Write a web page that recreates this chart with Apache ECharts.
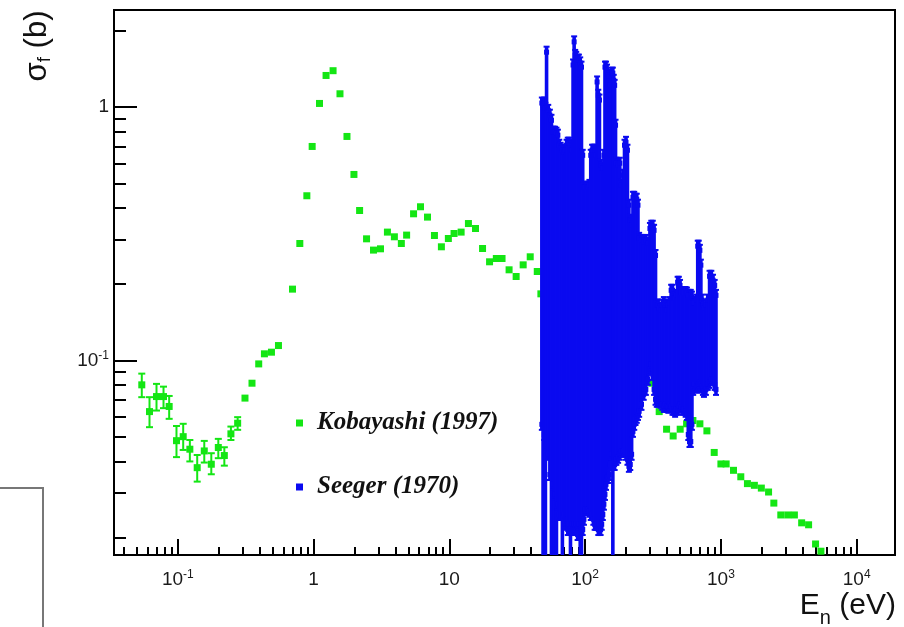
<!DOCTYPE html>
<html>
<head>
<meta charset="utf-8">
<script src="https://cdn.jsdelivr.net/npm/echarts@6/dist/echarts.min.js"></script>
<style>
  html, body { margin: 0; padding: 0; background: #fff; }
  #chart { width: 904px; height: 627px; }
</style>
</head>
<body>
<div id="chart"></div>
<script>
// ---------------- Data ----------------
// Kobayashi (1997): neutron energy (eV) and fission cross section (b)
const kobE = [0.0543, 0.0619, 0.0697, 0.0785, 0.0864, 0.0978, 0.1096, 0.1227, 0.139, 0.1567,
  0.1765, 0.1988, 0.2202, 0.2462, 0.276, 0.3125, 0.352, 0.3945, 0.4346, 0.4896,
  0.5514, 0.6997, 0.792, 0.8923, 0.9765, 1.106, 1.236, 1.392, 1.565, 1.762,
  1.983, 2.183, 2.456, 2.763, 3.11, 3.499, 3.937, 4.43, 4.845, 5.451,
  6.133, 6.901, 7.767, 8.738, 9.833, 10.83, 12.21, 13.82, 15.58, 17.56,
  19.78, 22.18, 24.44, 27.54, 31.04, 34.97, 39.41, 44.41, 47.22,
  310, 351.1, 398, 445, 501.3, 558.7, 621.8, 700.2, 788.6, 892.8,
  1000, 1093, 1238, 1401, 1568, 1764, 1985, 2244, 2454, 2761,
  3107, 3477, 3933, 4424, 4979, 5453];
const kobSigma = [0.0802, 0.0629, 0.0721, 0.0721, 0.0659, 0.0483, 0.0501, 0.0447, 0.0378, 0.044,
  0.039, 0.0454, 0.0422, 0.0514, 0.0566, 0.0711, 0.0814, 0.097, 0.1063, 0.1079,
  0.1146, 0.1913, 0.2895, 0.4467, 0.699, 1.033, 1.332, 1.391, 1.128, 0.7655,
  0.5421, 0.3908, 0.3021, 0.2727, 0.2759, 0.3211, 0.3077, 0.2895, 0.3125, 0.3792,
  0.4042, 0.368, 0.3114, 0.281, 0.303, 0.3171, 0.3211, 0.3471, 0.3318, 0.2767,
  0.2452, 0.2527, 0.2527, 0.228, 0.2145, 0.2385, 0.2566, 0.2245, 0.1833,
  0.0814, 0.0629, 0.0536, 0.0504, 0.0536, 0.0563, 0.058, 0.0563, 0.0528, 0.0434,
  0.0391, 0.0391, 0.0369, 0.0348, 0.0327, 0.0322, 0.0314, 0.0303, 0.0274, 0.0246,
  0.0246, 0.0246, 0.0229, 0.0225, 0.0189, 0.0177];
// visible error-bar bounds of the first Kobayashi points
const kobErrHigh = [0.0888, 0.0717, 0.0809, 0.0789, 0.0725, 0.0552, 0.0563, 0.0486, 0.0424, 0.0482,
  0.0431, 0.0491, 0.0455, 0.0549, 0.0598];
const kobErrLow = [0.0717, 0.0546, 0.0635, 0.0649, 0.0589, 0.0416, 0.0444, 0.04, 0.0333, 0.0396,
  0.0356, 0.0412, 0.0385, 0.0486, 0.0533];

// Seeger (1970): dense resonance data, upper / lower extent of the error bars per energy
const seegerE = [48, 49, 50, 51, 52, 53.5, 55, 56.5, 58, 59,
  60, 61.5, 63, 64.5, 66, 68, 70, 71.5, 73, 74.5,
  76, 78, 80, 81.5, 83, 84.5, 86, 88, 90, 92,
  94, 96, 98, 100, 102.5, 105, 107.5, 110, 112.5, 115,
  117.5, 120, 122.5, 125, 127.5, 130, 132.5, 135, 137.5, 140,
  142.5, 145, 147.5, 150, 152.5, 155, 157.5, 160, 162.5, 165,
  167.5, 170, 175, 180, 185, 190, 195, 200, 205, 210,
  215, 220, 225, 230, 235, 240, 245, 250, 260, 270,
  280, 290, 300, 307, 315, 322, 330, 337, 345, 352,
  360, 370, 380, 390, 400, 410, 420, 430, 440, 450,
  460, 470, 480, 490, 500, 512, 525, 537, 550, 562,
  575, 587, 600, 612, 625, 637, 650, 662, 675, 687,
  700, 712, 725, 737, 750, 775, 800, 825, 850, 875,
  900, 920];
const seegerHigh = [1.09, 1.07, 1.09, 1.04, 1.73, 1.02, 0.976, 0.932, 0.836, 0.836,
  0.836, 0.829, 0.814, 0.743, 0.723, 0.710, 0.697, 0.710, 0.743, 0.757,
  0.757, 0.743, 0.710, 1.54, 1.90, 1.68, 1.65, 1.61, 1.61, 1.57,
  1.51, 0.678, 0.507, 0.507, 0.507, 0.507, 0.516, 0.678, 0.710, 0.710,
  0.710, 0.678, 1.32, 1.17, 1.12, 0.620, 0.603, 0.603, 0.678, 1.51,
  1.51, 1.47, 1.40, 1.38, 1.28, 1.17, 1.43, 1.43, 1.34, 1.28,
  0.891, 0.631, 0.620, 0.631, 0.516, 0.566, 0.743, 0.763, 0.710, 0.431,
  0.376, 0.359, 0.463, 0.463, 0.455, 0.455, 0.431, 0.319, 0.313, 0.308,
  0.313, 0.305, 0.349, 0.356, 0.356, 0.343, 0.273, 0.174, 0.174, 0.169,
  0.166, 0.174, 0.178, 0.174, 0.166, 0.174, 0.178, 0.199, 0.199, 0.185,
  0.185, 0.190, 0.214, 0.214, 0.208, 0.195, 0.195, 0.195, 0.195, 0.194,
  0.190, 0.190, 0.190, 0.187, 0.178, 0.178, 0.178, 0.182, 0.297, 0.297,
  0.286, 0.250, 0.182, 0.174, 0.169, 0.174, 0.182, 0.226, 0.226, 0.218,
  0.208, 0.190];
const seegerLow = [0.0533, 0.012, 0.0486, 0.012, 0.0444, 0.0406, 0.0338, 0.012, 0.0309, 0.012,
  0.0282, 0.012, 0.0258, 0.0235, 0.0235, 0.012, 0.0235, 0.0215, 0.0225, 0.0205,
  0.0215, 0.012, 0.0215, 0.0205, 0.0215, 0.0205, 0.0215, 0.0196, 0.0215, 0.012,
  0.012, 0.0205, 0.0225, 0.0246, 0.0246, 0.0246, 0.0242, 0.0235, 0.0235, 0.0225,
  0.0215, 0.0215, 0.0215, 0.0205, 0.0215, 0.0205, 0.0215, 0.0235, 0.0258, 0.0282,
  0.0309, 0.0329, 0.0329, 0.0338, 0.037, 0.0406, 0.0406, 0.012, 0.037, 0.037,
  0.0388, 0.0388, 0.0395, 0.0406, 0.0417, 0.0417, 0.0424, 0.0406, 0.0388, 0.0364,
  0.037, 0.0406, 0.05, 0.0533, 0.0557, 0.0568, 0.0583, 0.06, 0.0639, 0.07,
  0.0732, 0.0802, 0.0878, 0.0919, 0.0839, 0.0732, 0.0669, 0.0657, 0.0657, 0.0669,
  0.0651, 0.0639, 0.0627, 0.0639, 0.0627, 0.0622, 0.0639, 0.0627, 0.0611, 0.0611,
  0.06, 0.0611, 0.0611, 0.0627, 0.0639, 0.0622, 0.0611, 0.0611, 0.06, 0.0583,
  0.0486, 0.0456, 0.0456, 0.0533, 0.0732, 0.0766, 0.0766, 0.0752, 0.0746, 0.0766,
  0.078, 0.0766, 0.0752, 0.0732, 0.0719, 0.0732, 0.0766, 0.078, 0.0802, 0.0802,
  0.0766, 0.0732];

// Axis ranges and ticks
const X_MIN = 0.0339, X_MAX = 19150;
const Y_MIN = 0.0171, Y_MAX = 2.414;
const xMajorTicks = [0.1, 1, 10, 100, 1000, 10000];
const xTickBase = ['10', '1', '10', '10', '10', '10'];
const xTickExp = ['-1', '', '', '2', '3', '4'];
const xMinorTicks = [0.04, 0.05, 0.06, 0.07, 0.08, 0.09,
  0.2, 0.3, 0.4, 0.5, 0.6, 0.7, 0.8, 0.9,
  2, 3, 4, 5, 6, 7, 8, 9,
  20, 30, 40, 50, 60, 70, 80, 90,
  200, 300, 400, 500, 600, 700, 800, 900,
  2000, 3000, 4000, 5000, 6000, 7000, 8000, 9000];
const yMajorTicks = [0.1, 1];
const yTickBase = ['10', '1'];
const yTickExp = ['-1', ''];
const yMinorTicks = [0.02, 0.03, 0.04, 0.05, 0.06, 0.07, 0.08, 0.09,
  0.2, 0.3, 0.4, 0.5, 0.6, 0.7, 0.8, 0.9, 2];

const legendNames = ['Kobayashi (1997)', 'Seeger (1970)'];

// ---------------- Styling ----------------
const GREEN = '#14e614';
const BLUE = '#0a0af0';
const FONT = 'Liberation Sans, Arial, sans-serif';

function tickFormatter(values, bases, exps) {
  return function (v) {
    for (let i = 0; i < values.length; i++) {
      if (Math.abs(Math.log10(v) - Math.log10(values[i])) < 1e-6) {
        return exps[i] ? '{b|' + bases[i] + '}{s|' + exps[i] + '}' : '{b|' + bases[i] + '}';
      }
    }
    return '';
  };
}
const labelRich = {
  b: { fontSize: 19, lineHeight: 22, fontFamily: FONT, color: '#1a1a1a' },
  s: { fontSize: 12, lineHeight: 12, fontFamily: FONT, color: '#1a1a1a', verticalAlign: 'top' }
};

const kobData = kobE.map((e, i) => [e, kobSigma[i]]);
const kobErrData = kobErrHigh.map((h, i) => [kobE[i], h, kobErrLow[i]]);
const seegerData = seegerE.map((e, i) => [e, seegerHigh[i], seegerLow[i]]);

function makeErrorRenderer(color, capHalf, lineW, withMarkers) {
  return function (params, api) {
    const cs = params.coordSys;
    const pTop = api.coord([api.value(0), api.value(1)]);
    const pBot = api.coord([api.value(0), api.value(2)]);
    const gTop = cs.y, gBot = cs.y + cs.height;
    const x = pTop[0];
    const y1 = Math.max(pTop[1], gTop);
    const y2 = Math.min(pBot[1], gBot);
    const st = { stroke: color, lineWidth: lineW };
    const capSt = { stroke: color, lineWidth: 2 };
    const ch = [{ type: 'line', shape: { x1: x, y1: y1, x2: x, y2: y2 }, style: st }];
    if (pTop[1] >= gTop) {
      ch.push({ type: 'line', shape: { x1: x - capHalf, y1: y1, x2: x + capHalf, y2: y1 }, style: capSt });
      if (withMarkers) ch.push({ type: 'rect', shape: { x: x - 2.5, y: y1 + 3, width: 5, height: 5 }, style: { fill: color } });
    }
    if (pBot[1] <= gBot) {
      ch.push({ type: 'line', shape: { x1: x - capHalf, y1: y2, x2: x + capHalf, y2: y2 }, style: capSt });
      if (withMarkers) ch.push({ type: 'rect', shape: { x: x - 2.5, y: y2 - 8, width: 5, height: 5 }, style: { fill: color } });
    }
    return { type: 'group', children: ch };
  };
}

const chart = echarts.init(document.getElementById('chart'), null, { renderer: 'canvas' });
const option = {
  animation: false,
  backgroundColor: '#fff',
  grid: { left: 114, right: 9, top: 10, bottom: 72, show: true, borderColor: '#000', borderWidth: 2, containLabel: false },
  xAxis: [
    {
      type: 'log', min: X_MIN, max: X_MAX, position: 'bottom',
      axisLine: { show: true, lineStyle: { color: '#000', width: 2 } },
      axisTick: { show: true, inside: true, length: 16, lineStyle: { color: '#000', width: 2 }, customValues: xMajorTicks },
      axisLabel: { show: true, customValues: xMajorTicks, margin: 14, formatter: tickFormatter(xMajorTicks, xTickBase, xTickExp), rich: labelRich },
      splitLine: { show: false }
    },
    {
      type: 'log', min: X_MIN, max: X_MAX, position: 'bottom',
      axisLine: { show: false },
      axisTick: { show: true, inside: true, length: 8, lineStyle: { color: '#000', width: 2 }, customValues: xMinorTicks },
      axisLabel: { show: false },
      splitLine: { show: false }
    }
  ],
  yAxis: [
    {
      type: 'log', min: Y_MIN, max: Y_MAX, position: 'left',
      axisLine: { show: true, lineStyle: { color: '#000', width: 2 } },
      axisTick: { show: true, inside: true, length: 23, lineStyle: { color: '#000', width: 2 }, customValues: yMajorTicks },
      axisLabel: { show: true, customValues: yMajorTicks, margin: 5, formatter: tickFormatter(yMajorTicks, yTickBase, yTickExp), rich: labelRich },
      splitLine: { show: false }
    },
    {
      type: 'log', min: Y_MIN, max: Y_MAX, position: 'left',
      axisLine: { show: false },
      axisTick: { show: true, inside: true, length: 12, lineStyle: { color: '#000', width: 2 }, customValues: yMinorTicks },
      axisLabel: { show: false },
      splitLine: { show: false }
    }
  ],
  legend: {
    show: true,
    orient: 'vertical',
    left: 296, top: 409,
    padding: 0,
    itemGap: 36,
    itemWidth: 7, itemHeight: 7,
    data: [
      { name: legendNames[0], icon: 'rect', itemStyle: { color: GREEN } },
      { name: legendNames[1], icon: 'rect', itemStyle: { color: BLUE } }
    ],
    textStyle: {
      fontFamily: 'Liberation Serif, Times New Roman, serif', fontStyle: 'italic', fontWeight: 'bold',
      fontSize: 25, lineHeight: 28, color: '#111', padding: [0, 0, 0, 9]
    },
    selectedMode: false
  },
  graphic: [
    {
      type: 'text', x: 37, y: 46, rotation: Math.PI / 2,
      style: {
        text: '{a|σ}{f|f}{a| (b)}', align: 'center', verticalAlign: 'middle',
        rich: {
          a: { fontSize: 31, lineHeight: 34, fontFamily: FONT, fill: '#111' },
          f: { fontSize: 19, lineHeight: 19, fontFamily: FONT, fill: '#111', verticalAlign: 'bottom' }
        }
      }
    },
    {
      type: 'text', x: 896, y: 606,
      style: {
        text: '{a|E}{n|n}{a| (eV)}', align: 'right', verticalAlign: 'middle',
        rich: {
          a: { fontSize: 30, lineHeight: 44, fontFamily: FONT, fill: '#111' },
          n: { fontSize: 20, lineHeight: 20, fontFamily: FONT, fill: '#111', verticalAlign: 'bottom' }
        }
      }
    },
    {
      type: 'polyline', shape: { points: [[0, 488], [43, 488], [43, 627]] },
      style: { stroke: '#777', lineWidth: 2, fill: null }
    }
  ],
  series: [
    {
      name: legendNames[0], type: 'custom', xAxisIndex: 0, yAxisIndex: 0,
      renderItem: makeErrorRenderer(GREEN, 3.5, 2, false),
      encode: { x: 0, y: [1, 2] },
      itemStyle: { color: GREEN },
      data: kobErrData, z: 2
    },
    {
      name: legendNames[0], type: 'scatter', xAxisIndex: 0, yAxisIndex: 0,
      symbol: 'rect', symbolSize: 7,
      itemStyle: { color: GREEN, opacity: 1 },
      data: kobData, z: 3
    },
    {
      name: legendNames[1], type: 'custom', xAxisIndex: 0, yAxisIndex: 0,
      renderItem: makeErrorRenderer(BLUE, 3, 3.6, true),
      encode: { x: 0, y: [1, 2] },
      itemStyle: { color: BLUE },
      data: seegerData, z: 4
    }
  ]
};
chart.setOption(option);
</script>
</body>
</html>
